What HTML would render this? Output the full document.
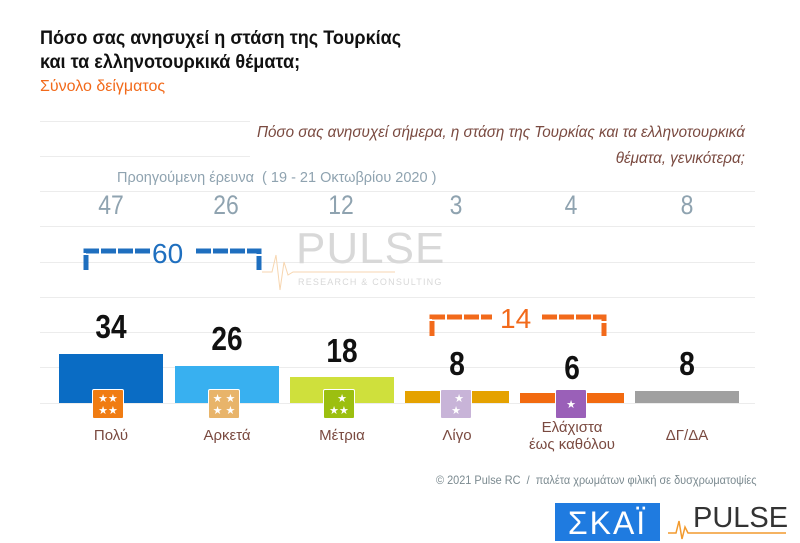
<!DOCTYPE html>
<html><head><meta charset="utf-8"><style>
body{margin:0;width:800px;height:541px;background:#fff;position:relative;overflow:hidden;font-family:"Liberation Sans",sans-serif}
.a{position:absolute;white-space:nowrap}
.g{position:absolute;left:40px;width:715px;height:1px;background:#ececec}
.bar{position:absolute;width:104px;bottom:138px}
.n{position:absolute;width:104px;text-align:center;font-weight:bold;font-size:33px;color:#111;transform:scaleX(0.85)}
.p{position:absolute;width:104px;text-align:center;font-size:27px;color:#8fa3b0;top:190px;transform:scaleX(0.85)}
.ic{position:absolute;width:32px;height:30px;top:389px;border:1px solid #fff;border-radius:2px;color:#fff;font-size:11px;line-height:12px;text-align:center;box-sizing:border-box;padding-top:3px}
.l{position:absolute;width:130px;text-align:center;font-size:15px;color:#7a4a40;line-height:17px}
</style></head><body>
<div class="a" style="left:40px;top:27px;font-size:19px;font-weight:bold;color:#111;line-height:24px;transform:scaleX(0.95);transform-origin:left">Πόσο σας ανησυχεί η στάση της Τουρκίας<br>και τα ελληνοτουρκικά θέματα;</div>
<div class="a" style="left:40px;top:78px;font-size:16px;color:#f26a1b">Σύνολο δείγματος</div>
<div class="g" style="top:121px;width:210px"></div>
<div class="g" style="top:156px;width:210px"></div>
<div class="g" style="top:191px"></div>
<div class="g" style="top:226px"></div>
<div class="g" style="top:262px"></div>
<div class="g" style="top:297px"></div>
<div class="g" style="top:332px"></div>
<div class="g" style="top:367px"></div>
<div class="g" style="top:403px"></div>
<div class="a" style="right:55px;top:120px;font-size:15.5px;font-style:italic;color:#7a4a40;text-align:right;line-height:26px;background:#fff;padding-left:6px;transform:scaleX(0.98);transform-origin:right">Πόσο σας ανησυχεί σήμερα, η στάση της Τουρκίας και τα ελληνοτουρκικά<br>θέματα, γενικότερα;</div>
<div class="a" style="left:117px;top:170px;font-size:14.5px;color:#8fa3b0">Προηγούμενη έρευνα &nbsp;( 19 - 21 Οκτωβρίου 2020 )</div>
<div class="p" style="left:59px">47</div><div class="p" style="left:174px">26</div><div class="p" style="left:289px">12</div><div class="p" style="left:404px">3</div><div class="p" style="left:519px">4</div><div class="p" style="left:635px">8</div>
<div class="a" style="left:296px;top:224px;font-size:44px;color:#d8d8d8;letter-spacing:1px">PULSE</div>
<div class="a" style="left:298px;top:277px;font-size:9px;color:#d8d8d8;letter-spacing:1.2px">RESEARCH &amp; CONSULTING</div>
<svg class="a" style="left:0;top:0" width="800" height="541">
<polyline points="262,272 272,272 276,255 280,290 284,262 288,275 293,272 395,272" fill="none" stroke="#f7d6b0" stroke-width="1"/>
<path d="M86,270 V251 H150 M196,251 H259 V270" fill="none" stroke="#1f6fbf" stroke-width="5" stroke-dasharray="15 2"/>
<path d="M432,336 V317 H492 M542,317 H604 V336" fill="none" stroke="#f26a1b" stroke-width="5" stroke-dasharray="15 2"/>
</svg>
<div class="a" style="left:152px;top:238px;font-size:28px;color:#1f6fbf">60</div>
<div class="a" style="left:500px;top:303px;font-size:28px;color:#f26a1b">14</div>
<div class="bar" style="left:59px;height:49px;background:#0a6cc4"></div>
<div class="bar" style="left:175px;height:37px;background:#38b0f0"></div>
<div class="bar" style="left:290px;height:26px;background:#cfe03c"></div>
<div class="bar" style="left:405px;height:12px;background:#e5a200"></div>
<div class="bar" style="left:520px;height:10px;background:#f26a10"></div>
<div class="bar" style="left:635px;height:12px;background:#a0a0a0"></div>
<div class="n" style="left:59px;top:308px">34</div>
<div class="n" style="left:175px;top:320px">26</div>
<div class="n" style="left:290px;top:332px">18</div>
<div class="n" style="left:405px;top:345px">8</div>
<div class="n" style="left:520px;top:349px">6</div>
<div class="n" style="left:635px;top:345px">8</div>
<div class="ic" style="left:92px;background:#f07c12">★★<br>★★</div>
<div class="ic" style="left:208px;background:#e8b46a">★ ★<br>★ ★</div>
<div class="ic" style="left:323px;background:#9cbf10">&nbsp;&nbsp;★<br>★★</div>
<div class="ic" style="left:440px;background:#c8b4d8">&nbsp;&nbsp;★<br>★</div>
<div class="ic" style="left:555px;background:#9a60b8;padding-top:9px">★</div>
<div class="l" style="left:46px;top:427px">Πολύ</div>
<div class="l" style="left:162px;top:427px">Αρκετά</div>
<div class="l" style="left:277px;top:427px">Μέτρια</div>
<div class="l" style="left:392px;top:427px">Λίγο</div>
<div class="l" style="left:507px;top:419px">Ελάχιστα<br>έως καθόλου</div>
<div class="l" style="left:622px;top:427px">ΔΓ/ΔΑ</div>
<div class="a" style="left:436px;top:473px;font-size:12px;color:#7b8a90;transform:scaleX(0.91);transform-origin:left">© 2021 Pulse RC &nbsp;/ &nbsp;παλέτα χρωμάτων φιλική σε δυσχρωματοψίες</div>
<div class="a" style="left:555px;top:503px;width:105px;height:38px;background:#1f7be0;color:#fff;font-size:32px;text-align:center;line-height:40px;letter-spacing:2px">ΣΚΑΪ</div>
<div class="a" style="left:693px;top:502px;font-size:29px;color:#333;letter-spacing:0px">PULSE</div>
<svg class="a" style="left:668px;top:505px" width="120" height="36"><polyline points="0,28 8,28 11,16 14,34 17,22 20,28 118,28" fill="none" stroke="#f29a2e" stroke-width="1.5"/></svg>
</body></html>
